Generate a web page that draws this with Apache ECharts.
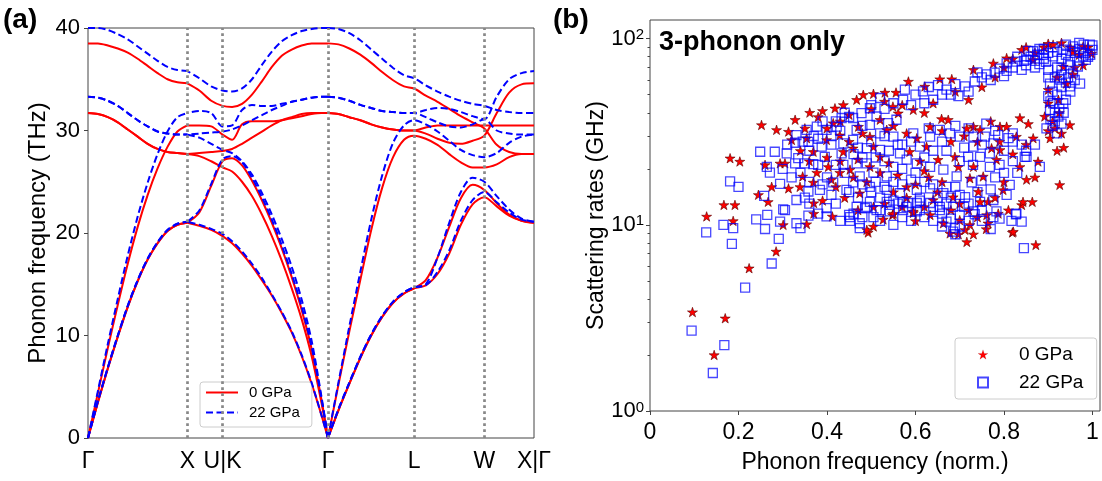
<!DOCTYPE html>
<html>
<head>
<meta charset="UTF-8">
<title>c-BN phonons</title>
<style>
html, body { margin: 0; padding: 0; background: #fff; }
#chart { width: 1102px; height: 481px; }
</style>
<script src="https://cdn.jsdelivr.net/npm/echarts@6/dist/echarts.min.js"></script>
</head>
<body>
<div id="chart"></div>
<script type="text/javascript">
// k-path coordinate, Γ-X-U|K-Γ-L-W-X
var kPath = [0, 0.1, 0.2, 0.3, 0.4, 0.5, 0.6, 0.7, 0.8, 0.9, 1.0,
  1.12, 1.24, 1.354,
  1.45, 1.55, 1.65, 1.75, 1.85, 1.95, 2.05, 2.15, 2.25, 2.35, 2.415,
  2.52, 2.63, 2.74, 2.85, 2.96, 3.07, 3.18, 3.281,
  3.399, 3.517, 3.635, 3.752, 3.87, 3.988,
  4.113, 4.238, 4.363, 4.488];
var symPos = [0, 1.0, 1.354, 2.415, 3.281, 3.988, 4.488];
var symLabels = ['Γ', 'X', 'U|K', 'Γ', 'L', 'W', 'X|Γ'];

// 0 GPa bands (THz)
var red1 = [0, 3.5, 6.8, 9.9, 12.8, 15.3, 17.4, 19.0, 20.2, 20.8, 21.0,
  20.7, 20.3, 19.7,
  19.0, 18.0, 16.8, 15.4, 13.9, 12.2, 10.3, 8.0, 5.3, 2.2, 0,
  2.7, 5.3, 7.8, 10.0, 11.8, 13.2, 14.1, 14.6,
  14.9, 16.0, 18.0, 20.8, 22.8, 23.5,
  22.6, 21.7, 21.2, 21.0];
var red2 = [0, 3.5, 6.8, 9.9, 12.8, 15.3, 17.4, 19.0, 20.2, 20.8, 21.0,
  22.0, 24.6, 27.0,
  27.3, 26.6, 25.1, 23.2, 21.0, 18.5, 15.7, 12.5, 8.7, 3.7, 0,
  2.7, 5.3, 7.8, 10.0, 11.8, 13.2, 14.1, 14.6,
  15.4, 17.6, 20.6, 23.4, 24.7, 24.2,
  22.9, 21.8, 21.2, 21.0];
var red3 = [31.7, 31.6, 31.3, 30.8, 30.1, 29.4, 28.7, 28.2, 27.9, 27.8, 27.7,
  27.5, 27.0, 26.4,
  26.0, 25.0, 23.6, 21.8, 19.7, 17.3, 14.6, 11.6, 8.0, 3.4, 0,
  5.2, 10.4, 15.4, 20.3, 24.4, 27.4, 29.1, 29.5,
  29.2, 28.6, 27.7, 26.9, 26.4, 26.4,
  26.7, 27.4, 27.7, 27.7];
var red4 = [0, 4.4, 8.8, 13.0, 17.0, 20.6, 23.7, 26.3, 28.4, 29.9, 30.5,
  30.5, 30.4, 29.6,
  29.1, 30.6, 30.9, 30.9, 30.9, 31.0, 31.2, 31.4, 31.6, 31.7, 31.7,
  31.6, 31.3, 31.0, 30.6, 30.3, 30.1, 30.0, 30.0,
  30.3, 30.5, 30.5, 30.5, 30.5, 30.5,
  30.5, 30.5, 30.5, 30.5];
var red5 = [31.7, 31.6, 31.3, 30.8, 30.1, 29.4, 28.7, 28.2, 27.9, 27.8, 27.7,
  27.8, 27.9, 28.0,
  28.2, 28.7, 29.3, 29.9, 30.5, 31.0, 31.3, 31.6, 31.7, 31.7, 31.7,
  31.6, 31.3, 31.0, 30.6, 30.3, 30.1, 30.0, 30.0,
  29.7, 29.2, 28.8, 28.7, 29.0, 29.5,
  31.7, 33.7, 34.5, 34.6];
var red6 = [38.5, 38.5, 38.3, 38.0, 37.6, 37.0, 36.3, 35.6, 35.0, 34.7, 34.6,
  33.9, 32.9, 32.4,
  32.3, 32.6, 33.5, 34.8, 36.2, 37.3, 37.9, 38.3, 38.5, 38.5, 38.5,
  38.4, 38.0, 37.4, 36.6, 35.7, 34.9, 34.3, 34.1,
  33.4, 32.8, 32.1, 31.4, 30.8, 30.2,
  28.6, 27.9, 27.7, 27.7];

// 22 GPa bands (THz)
var blue1 = [0, 3.6, 6.9, 10.0, 12.9, 15.4, 17.5, 19.1, 20.3, 20.9, 21.1,
  20.8, 20.4, 19.9,
  19.2, 18.2, 17.0, 15.6, 14.0, 12.3, 10.4, 8.1, 5.4, 2.2, 0,
  2.8, 5.4, 7.9, 10.1, 11.9, 13.3, 14.2, 14.7,
  14.9, 16.2, 18.3, 21.2, 23.2, 24.0,
  23.0, 22.0, 21.3, 21.1];
var blue2 = [0, 3.6, 6.9, 10.0, 12.9, 15.4, 17.5, 19.1, 20.3, 20.9, 21.1,
  22.2, 24.8, 27.2,
  27.5, 26.9, 25.4, 23.5, 21.3, 18.8, 16.0, 12.8, 8.9, 3.8, 0,
  2.8, 5.4, 7.9, 10.1, 11.9, 13.3, 14.2, 14.7,
  15.0, 17.6, 21.0, 24.0, 25.4, 25.0,
  23.6, 22.3, 21.4, 21.1];
var blue3 = [33.3, 33.2, 32.9, 32.4, 31.7, 31.0, 30.4, 29.9, 29.7, 29.6, 29.6,
  29.3, 28.7, 28.1,
  27.8, 27.0, 25.7, 23.9, 21.8, 19.4, 16.7, 13.5, 9.5, 4.0, 0,
  5.4, 10.9, 16.2, 21.3, 25.6, 28.8, 30.5, 31.0,
  30.6, 29.9, 29.0, 28.1, 27.6, 27.4,
  27.8, 28.8, 29.4, 29.6];
var blue4 = [0, 4.6, 9.2, 13.6, 17.8, 21.6, 24.9, 27.7, 29.9, 31.3, 31.7,
  31.9, 31.7, 30.4,
  30.5, 32.0, 32.5, 32.4, 32.4, 32.6, 32.8, 33.0, 33.2, 33.3, 33.3,
  33.2, 32.9, 32.5, 32.2, 31.9, 31.8, 31.7, 31.7,
  32.0, 32.2, 32.1, 31.8, 31.4, 31.1,
  33.3, 35.0, 35.6, 35.8];
var blue5 = [33.3, 33.2, 32.9, 32.4, 31.7, 31.0, 30.4, 29.9, 29.7, 29.6, 29.6,
  29.7, 29.8, 29.9,
  30.1, 30.5, 31.0, 31.5, 32.0, 32.4, 32.8, 33.0, 33.2, 33.3, 33.3,
  33.2, 32.9, 32.5, 32.2, 31.9, 31.8, 31.7, 31.7,
  31.3, 30.8, 30.4, 30.3, 30.6, 31.1,
  30.0, 29.7, 29.6, 29.6];
var blue6 = [40.0, 40.0, 39.8, 39.4, 38.9, 38.2, 37.5, 36.8, 36.2, 35.9, 35.8,
  35.1, 34.3, 33.9,
  33.8, 34.1, 35.0, 36.4, 37.7, 38.7, 39.3, 39.7, 39.9, 40.0, 40.0,
  39.9, 39.5, 38.8, 37.9, 37.0, 36.1, 35.4, 35.1,
  34.4, 33.8, 33.3, 32.9, 32.6, 32.4,
  32.0, 31.8, 31.7, 31.7];

// scattering rates [normalised frequency, GHz]
var rates0GPa = [
  [0.096, 3.4], [0.128, 11.1], [0.167, 12.8], [0.192, 12.8], [0.188, 10.5], [0.170, 3.15], [0.145, 2.0],
  [0.224, 5.85], [0.285, 7.2], [0.301, 10.0], [0.354, 10.1], [0.37, 13.1], [0.267, 13.3], [0.412, 11.1],
  [0.493, 9.1], [0.505, 9.8], [0.527, 10.7], [0.548, 11.3], [0.595, 11.6], [0.633, 11.3], [0.663, 10.2],
  [0.697, 8.9], [0.716, 8.1], [0.731, 8.9], [0.712, 9.4], [0.723, 10.0], [0.761, 11.3], [0.764, 10.2],
  [0.81, 12.0], [0.819, 9.1], [0.84, 12.8], [0.864, 13.3], [0.872, 7.8], [0.746, 13.3],
  [0.252, 34.4], [0.286, 32.4], [0.313, 31.7], [0.328, 36.7], [0.361, 40.1], [0.39, 41.0], [0.418, 42.3],
  [0.437, 44.1], [0.467, 47.0], [0.482, 50.0], [0.505, 50.6], [0.531, 51.4], [0.556, 51.4], [0.584, 58.9],
  [0.621, 55.4], [0.655, 60.7], [0.682, 60.7], [0.731, 68.1], [0.776, 73.7], [0.806, 78.7], [0.84, 87.3],
  [0.911, 92.9], [0.979, 91], [0.998, 83.3], [0.934, 70.9], [0.956, 64.3], [0.941, 57.4], [0.9, 53.2],
  [0.923, 47.0], [0.892, 38.2], [0.949, 34.4], [0.93, 31.0], [0.904, 29.2], [0.915, 33.0], [0.836, 37.5],
  [0.855, 34.9], [0.866, 29.2], [0.877, 21.9], [0.836, 20.5], [0.926, 16.4], [0.851, 17.5], [0.843, 13.3],
  [0.791, 33.7], [0.806, 33.7], [0.772, 25.8], [0.791, 25.3], [0.783, 22.4], [0.828, 29.8], [0.731, 33.7],
  [0.716, 33.0], [0.746, 32.4], [0.674, 36.7], [0.659, 37.1], [0.633, 33.7], [0.603, 29.2], [0.625, 26.3],
  [0.587, 24.7], [0.651, 22.4], [0.689, 23.2], [0.697, 20.5], [0.731, 20.5], [0.753, 18.2], [0.723, 17.8],
  [0.742, 15.1], [0.764, 13.3], [0.798, 15.4], [0.787, 11.5], [0.549, 43.2], [0.561, 39.8], [0.595, 41.5],
  [0.52, 36.7], [0.535, 32.4], [0.505, 26.3], [0.52, 23.2], [0.497, 20.5], [0.459, 25.8], [0.437, 24.7],
  [0.452, 19.8], [0.429, 19.1], [0.403, 20.5], [0.41, 17.5], [0.377, 19.1], [0.369, 16.9], [0.345, 18.2],
  [0.339, 16.0], [0.313, 15.7], [0.294, 21.4], [0.26, 21.0], [0.275, 16.0], [0.245, 14.5], [0.181, 22.8],
  [0.203, 21.9], [0.399, 28.6], [0.429, 30.3], [0.471, 33.7], [0.497, 29.8], [0.414, 35.2], [0.354, 29.2],
  [0.32, 28.6], [0.305, 21.4], [0.369, 24.7], [0.474, 14.8], [0.505, 12.5], [0.55, 11.5], [0.595, 11.8],
  [0.64, 13.6], [0.685, 14.1], [0.7, 10.6], [0.49, 9.4], [0.678, 9.0], [0.821, 9.2],
  [0.9, 94], [0.956, 85], [0.866, 77], [0.979, 72], [0.6, 16.5], [0.56, 18.5], [0.62, 19.5], [0.66, 17.0],
  [0.54, 21.5], [0.58, 14.0], [0.47, 22.5], [0.62, 12.5],
  [0.62, 40], [0.64, 45], [0.69, 52], [0.72, 47], [0.75, 55], [0.78, 62], [0.8, 70], [0.82, 78],
  [0.85, 90], [0.87, 84], [0.89, 90], [0.93, 95], [0.95, 90], [0.97, 82], [0.99, 90], [0.96, 70],
  [0.92, 62], [0.9, 45], [0.925, 40], [0.91, 36], [0.935, 26], [0.92, 25], [0.9, 32], [0.57, 44],
  [0.53, 46], [0.5, 42], [0.45, 39], [0.43, 36], [0.4, 33], [0.38, 38], [0.35, 33], [0.34, 25],
  [0.36, 22], [0.4, 23], [0.43, 22], [0.46, 18], [0.49, 17], [0.52, 19], [0.55, 15], [0.58, 16],
  [0.61, 22], [0.63, 18], [0.65, 15], [0.68, 12], [0.7, 13], [0.72, 12], [0.74, 11], [0.76, 9.5],
  [0.78, 14], [0.8, 17], [0.82, 24], [0.79, 28], [0.85, 27], [0.87, 18], [0.6, 10.5], [0.57, 12.5],
  [0.53, 13], [0.47, 12], [0.44, 14], [0.42, 16], [0.39, 13.5], [0.37, 11.5], [0.66, 32], [0.68, 28],
  [0.71, 30], [0.74, 28], [0.77, 36], [0.55, 34], [0.58, 31], [0.48, 31], [0.45, 28]
];
var rates22GPa = [
  [0.094, 2.7], [0.142, 1.6], [0.168, 2.26], [0.127, 9.1], [0.166, 10.0], [0.188, 9.6], [0.185, 7.9],
  [0.215, 4.6], [0.275, 6.2], [0.291, 8.4], [0.24, 10.7], [0.26, 9.5], [0.265, 11.3], [0.301, 12.1],
  [0.331, 10.2], [0.34, 9.6], [0.358, 11.2], [0.399, 11.1], [0.45, 11.3], [0.452, 10.5], [0.474, 9.6],
  [0.486, 12.3], [0.512, 12.0], [0.542, 12.8], [0.584, 13.1], [0.61, 12.0], [0.655, 12.5], [0.67, 10.4],
  [0.685, 9.2], [0.7, 11.3], [0.734, 11.4], [0.776, 11.0], [0.817, 10.5], [0.84, 10.4], [0.827, 11.4],
  [0.845, 7.5], [0.783, 11.8],
  [0.181, 17.1], [0.2, 16.0], [0.258, 14.3], [0.264, 20.5], [0.271, 19.1], [0.249, 24.7], [0.282, 24.7],
  [0.294, 16.6], [0.309, 24.2], [0.328, 21.4], [0.35, 21.4], [0.369, 21.2], [0.335, 22.8], [0.328, 27.6],
  [0.358, 27.9], [0.388, 26.3], [0.395, 23.2], [0.433, 24.2], [0.437, 21.0], [0.331, 13.6], [0.358, 15.1],
  [0.384, 15.4], [0.414, 16.9], [0.444, 15.4], [0.399, 12.3], [0.305, 12.0], [0.294, 10.4], [0.331, 30.3],
  [0.354, 32.4], [0.377, 33.7], [0.399, 32.4], [0.422, 33.7], [0.433, 37.5], [0.459, 37.5], [0.478, 39.8],
  [0.497, 42.3], [0.512, 38.2], [0.538, 35.2], [0.557, 36.7], [0.576, 53.2], [0.572, 47.0], [0.617, 52.1],
  [0.64, 47.0], [0.651, 56.3], [0.67, 53.2], [0.697, 49.1], [0.712, 55.4], [0.734, 58.9], [0.761, 64.3],
  [0.779, 65.7], [0.806, 67.1], [0.806, 73.7], [0.828, 75.3], [0.851, 77.1], [0.866, 85.6], [0.889, 82.0],
  [0.911, 80.4], [0.934, 87.3], [0.956, 91], [0.994, 93], [0.979, 80.4], [0.967, 70.9], [0.956, 65.7],
  [0.972, 57.4], [0.949, 55.4], [0.926, 60.2], [0.904, 57.4], [0.9, 49.1], [0.911, 45.0], [0.934, 45.0],
  [0.904, 41.5], [0.923, 38.2], [0.896, 33.0], [0.881, 20.5], [0.851, 23.2], [0.813, 16.4], [0.806, 14.5],
  [0.828, 11.5], [0.776, 13.6], [0.768, 20.5], [0.746, 23.2], [0.768, 24.2], [0.719, 23.2], [0.731, 26.3],
  [0.7, 29.8], [0.731, 29.8], [0.757, 29.8], [0.787, 30.3], [0.81, 29.2], [0.847, 23.2], [0.776, 27.4],
  [0.678, 31.0], [0.655, 32.4], [0.633, 29.8], [0.595, 31.0], [0.61, 26.3], [0.58, 22.4], [0.603, 21.4],
  [0.633, 20.5], [0.663, 19.8], [0.693, 18.2], [0.727, 16.9], [0.749, 17.3], [0.565, 24.2], [0.55, 20.5],
  [0.535, 18.2], [0.505, 19.1], [0.474, 18.2], [0.459, 16.9], [0.497, 16.0], [0.535, 15.4], [0.565, 14.8],
  [0.603, 15.4], [0.633, 15.7], [0.663, 14.8], [0.633, 13.1], [0.603, 13.1], [0.572, 13.3], [0.535, 13.3],
  [0.497, 13.3], [0.467, 12.5], [0.452, 11.0], [0.474, 10.2], [0.505, 11.0], [0.542, 11.8], [0.572, 12.0],
  [0.603, 11.8], [0.655, 12.0], [0.685, 12.5], [0.689, 9.6], [0.731, 11.8], [0.746, 13.3], [0.712, 14.1],
  [0.467, 32.4], [0.497, 34.4], [0.52, 31.0], [0.55, 29.8], [0.459, 28.6], [0.437, 27.4], [0.49, 25.8],
  [0.52, 25.3], [0.467, 21.4], [0.49, 21.4],
  [0.915, 36.0], [0.925, 42.0], [0.9, 62.0], [0.945, 75.0], [0.87, 70.0], [0.84, 68.0], [0.88, 88.0],
  [0.97, 95.0], [1.0, 87.0], [0.985, 77.0],
  [0.83, 80], [0.85, 72], [0.86, 80], [0.87, 76], [0.88, 73], [0.89, 78], [0.89, 88], [0.9, 84],
  [0.91, 90], [0.92, 85], [0.92, 70], [0.93, 78], [0.93, 64], [0.94, 82], [0.94, 93], [0.95, 86],
  [0.95, 72], [0.96, 84], [0.97, 88], [0.97, 76], [0.98, 93], [0.98, 84], [0.99, 80], [1.0, 92],
  [0.995, 82], [0.96, 60], [0.95, 52], [0.94, 58], [0.93, 55], [0.92, 50], [0.91, 52], [0.905, 46],
  [0.915, 40], [0.905, 37], [0.91, 34], [0.92, 31], [0.93, 35], [0.935, 40], [0.94, 47], [0.945, 62],
  [0.93, 68], [0.915, 62], [0.9, 68], [0.895, 75], [0.875, 82], [0.855, 86], [0.845, 76], [0.82, 70],
  [0.8, 63], [0.79, 69], [0.77, 60], [0.75, 62], [0.74, 66], [0.72, 52], [0.69, 57], [0.68, 50],
  [0.66, 50], [0.63, 55], [0.6, 50], [0.59, 44], [0.62, 45], [0.55, 45], [0.53, 42], [0.52, 48],
  [0.5, 44], [0.48, 34], [0.45, 38], [0.44, 40], [0.42, 36], [0.41, 30], [0.39, 36], [0.37, 30],
  [0.36, 25], [0.345, 28], [0.31, 27],
  [0.45, 15], [0.47, 14], [0.48, 16.5], [0.5, 15], [0.51, 17], [0.52, 14], [0.53, 16], [0.55, 17],
  [0.56, 13], [0.57, 16.5], [0.59, 17.5], [0.61, 14], [0.62, 17], [0.64, 16.5], [0.65, 14], [0.67, 16],
  [0.68, 14], [0.69, 16], [0.7, 14.5], [0.71, 12.5], [0.72, 13], [0.74, 15], [0.75, 12], [0.77, 15.5],
  [0.78, 18], [0.8, 19], [0.79, 21], [0.82, 22], [0.83, 19], [0.8, 25], [0.84, 27], [0.82, 31],
  [0.76, 35], [0.72, 33], [0.69, 34], [0.66, 28], [0.64, 25], [0.62, 23], [0.6, 19], [0.57, 20],
  [0.53, 22], [0.51, 23], [0.48, 23], [0.46, 24], [0.44, 19], [0.42, 21], [0.4, 18], [0.38, 21],
  [0.36, 17], [0.34, 19], [0.32, 18], [0.3, 20], [0.46, 11.5], [0.48, 11], [0.52, 10.5], [0.55, 10],
  [0.57, 11], [0.59, 10.5], [0.62, 11], [0.64, 10.5], [0.66, 11.5], [0.68, 10.8], [0.7, 9.8], [0.72, 10.5],
  [0.75, 10.5], [0.77, 9.5], [0.79, 10.8], [0.66, 9.8], [0.69, 8.9], [0.55, 13.5], [0.58, 12.5], [0.61, 13.5],
  [0.64, 12.5], [0.67, 13], [0.52, 12], [0.49, 12.5], [0.42, 13], [0.43, 10.5], [0.38, 11.5], [0.36, 13],
  [0.41, 14.5], [0.39, 16.5], [0.35, 14], [0.57, 27], [0.59, 28], [0.63, 33], [0.67, 25], [0.7, 22],
  [0.73, 21], [0.71, 26], [0.75, 27], [0.78, 32], [0.82, 28], [0.85, 25], [0.87, 27], [0.54, 25],
  [0.56, 27], [0.5, 28], [0.53, 30], [0.47, 26], [0.43, 32], [0.41, 27], [0.38, 29]
];
var rateTicks = [1, 10, 100];
var rateMinorTicks = [2, 3, 4, 5, 6, 7, 8, 9, 20, 30, 40, 50, 60, 70, 80, 90];

var FONT = '"Liberation Sans", Arial, sans-serif';
var STAR = 'path://M0,-1L0.2245,-0.309L0.9511,-0.309L0.3633,0.118L0.5878,0.809L0,0.382L-0.5878,0.809L-0.3633,0.118L-0.9511,-0.309L-0.2245,-0.309Z';

// each band is drawn as three pieces that start at Γ, so degenerate
// branches share the same dash phase: Γ-X, Γ-K-U-X (reversed), Γ-L-W-X
function bandLines(vals, name, color, dashed) {
    var pts = kPath.map(function (k, i) { return [k, vals[i]]; });
    var pieces = [pts.slice(0, 11), pts.slice(10, 25).reverse(), pts.slice(24)];
    return pieces.map(function (p) {
        return {
            type: 'line', name: name, xAxisIndex: 0, yAxisIndex: 0,
            data: p, smooth: 0.3, symbol: 'none', silent: true,
            lineStyle: { color: color, width: 2, type: dashed ? [7, 3.5] : 'solid' },
            itemStyle: { color: color },
            z: dashed ? 4 : 3
        };
    });
}

var series = [];
[red1, red2, red3, red4, red5, red6].forEach(function (b) {
    series = series.concat(bandLines(b, '0 GPa', '#ff0000', false));
});
[blue1, blue2, blue3, blue4, blue5, blue6].forEach(function (b) {
    series = series.concat(bandLines(b, '22 GPa', '#0000ff', true));
});

// dotted lines at the high-symmetry points
series.push({
    type: 'line', xAxisIndex: 0, yAxisIndex: 0, data: [], silent: true, z: 1,
    markLine: {
        silent: true, symbol: ['none', 'none'], animation: false,
        label: { show: false },
        lineStyle: { color: '#888888', type: [2.7, 3.3], width: 2.7 },
        data: symPos.slice(1).map(function (v) { return { xAxis: v }; })
    }
});

series.push({
    type: 'scatter', name: '0 GPa ', xAxisIndex: 1, yAxisIndex: 1,
    data: rates0GPa, symbol: STAR, symbolSize: 10, symbolKeepAspect: true,
    itemStyle: { color: '#ff0000', borderColor: '#5a0000', borderWidth: 0.6, opacity: 1 },
    z: 3
});
series.push({
    type: 'scatter', name: '22 GPa ', xAxisIndex: 1, yAxisIndex: 1,
    data: rates22GPa, symbol: 'rect', symbolSize: 9,
    itemStyle: { color: 'rgba(0,0,0,0)', borderColor: 'rgba(0,0,255,0.72)', borderWidth: 1.3, opacity: 1 },
    z: 4
});

var myChart = echarts.init(document.getElementById('chart'));
var option = {
    animation: false,
    backgroundColor: '#fff',
    textStyle: { fontFamily: FONT },
    graphic: [
        { type: 'text', left: 3, top: 6, style: { text: '(a)', font: 'bold 28px ' + FONT, fill: '#000' } },
        { type: 'text', left: 553, top: 6, style: { text: '(b)', font: 'bold 28px ' + FONT, fill: '#000' } },
        { type: 'text', left: 659, top: 29, z: 10, style: { text: '3-phonon only', font: 'bold 27px ' + FONT, fill: '#000' } }
    ],
    legend: [{
        data: ['0 GPa', '22 GPa'], orient: 'vertical', left: 200, top: 382,
        padding: [3, 12, 7, 5], itemWidth: 32, itemHeight: 10, itemGap: 5,
        itemStyle: { opacity: 0 },
        backgroundColor: 'rgba(255,255,255,0.85)', borderColor: '#cccccc', borderWidth: 1, borderRadius: 3,
        textStyle: { fontSize: 15, color: '#000', fontFamily: FONT, padding: [0, 0, 0, 6] },
        selectedMode: false
    }, {
        data: [{ name: '0 GPa ', itemStyle: { borderWidth: 0.12, borderColor: '#5a0000' } }, { name: '22 GPa ' }],
        orient: 'vertical', left: 955, top: 338,
        padding: [7, 8, 7, 22], itemWidth: 10, itemHeight: 10, itemGap: 9,
        backgroundColor: '#fff', borderColor: '#cccccc', borderWidth: 1, borderRadius: 3,
        textStyle: { fontSize: 19, color: '#000', fontFamily: FONT, padding: [0, 0, 0, 26] },
        selectedMode: false
    }],
    grid: [
        { left: 88, top: 28, width: 446, height: 410, show: true, borderColor: '#444', borderWidth: 1 },
        { left: 650, top: 20, width: 450, height: 391, show: true, borderColor: '#444', borderWidth: 1 }
    ],
    xAxis: [{
        gridIndex: 0, type: 'value', min: 0, max: 4.488,
        axisLine: { show: false }, axisTick: { show: false }, splitLine: { show: false },
        axisLabel: {
            customValues: symPos, showMinLabel: true, showMaxLabel: true,
            fontSize: 23, color: '#000', margin: 12,
            formatter: function (v) {
                for (var i = 0; i < symPos.length; i++) {
                    if (Math.abs(symPos[i] - v) < 1e-6) return symLabels[i];
                }
                return '';
            }
        }
    }, {
        gridIndex: 1, type: 'value', min: 0, max: 1.017, interval: 0.2,
        name: 'Phonon frequency (norm.)', nameLocation: 'middle', nameGap: 40, nameMoveOverlap: false,
        nameTextStyle: { fontSize: 23, color: '#000' },
        axisLine: { show: false }, splitLine: { show: false },
        axisTick: { show: true, length: 4, lineStyle: { color: '#444' } },
        axisLabel: {
            fontSize: 23, color: '#000', margin: 10, showMaxLabel: false,
            formatter: function (v) {
                if (v > 1.001) return '';
                if (v === 0) return '0';
                if (Math.abs(v - 1) < 1e-6) return '1';
                return v.toFixed(1);
            }
        }
    }],
    yAxis: [{
        gridIndex: 0, type: 'value', min: 0, max: 40, interval: 10,
        name: 'Phonon frequency (THz)', nameLocation: 'middle', nameGap: 38, nameMoveOverlap: false,
        nameTextStyle: { fontSize: 24, color: '#000' },
        axisLine: { show: false }, splitLine: { show: false },
        axisTick: { show: true, length: 4, lineStyle: { color: '#444' } },
        axisLabel: { fontSize: 22, color: '#000', margin: 8 }
    }, {
        gridIndex: 1, type: 'log', logBase: 10, min: rateTicks[0], max: 126,
        name: 'Scattering rates (GHz)', nameLocation: 'middle', nameGap: 42, nameMoveOverlap: false,
        nameTextStyle: { fontSize: 23, color: '#000' },
        axisLine: { show: false }, splitLine: { show: false },
        axisTick: { show: true, length: 4, lineStyle: { color: '#444' } },
        axisLabel: {
            margin: 6,
            formatter: function (v) {
                return '{m|10}{e|' + Math.round(Math.log10(v)) + '}';
            },
            rich: {
                m: { fontSize: 22, color: '#000', verticalAlign: 'bottom', fontFamily: FONT },
                e: { fontSize: 15, color: '#000', verticalAlign: 'top', fontFamily: FONT }
            }
        }
    }, {
        gridIndex: 1, type: 'log', logBase: 10, min: rateTicks[0], max: 126, position: 'left',
        axisLine: { show: false }, splitLine: { show: false }, axisLabel: { show: false },
        axisTick: { show: true, length: 2.5, customValues: rateMinorTicks, lineStyle: { color: '#444' } }
    }],
    series: series
};
myChart.setOption(option);
</script>
</body>
</html>
